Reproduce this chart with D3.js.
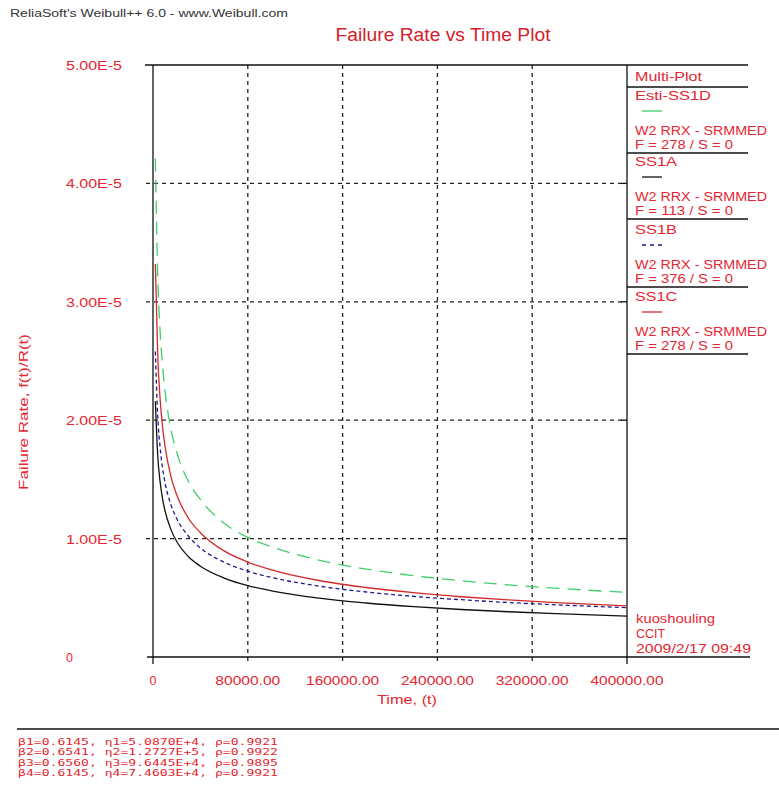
<!DOCTYPE html>
<html>
<head>
<meta charset="utf-8">
<script src="https://cdn.jsdelivr.net/npm/d3@7"></script>
<style>
  body { margin: 0; background: #fff; }
  svg { display: block; font-family: "Liberation Sans", Arial, sans-serif; }
</style>
</head>
<body>
<svg id="chart" width="779" height="809"></svg>
<script>
// values (failure rate per unit time)
const times = [2000, 4000, 6000, 8000, 10000, 15000, 20000, 30000, 40000, 60000, 80000,
  100000, 140000, 180000, 220000, 260000, 300000, 340000, 400000];
const esti = [4.21e-5, 3.22e-5, 2.75e-5, 2.47e-5, 2.26e-5, 1.93e-5, 1.73e-5, 1.48e-5, 1.33e-5, 1.13e-5, 1.01e-5,
  9.31e-6, 8.18e-6, 7.42e-6, 6.87e-6, 6.44e-6, 6.09e-6, 5.81e-6, 5.45e-6];
const ss1a = [2.16e-5, 1.70e-5, 1.48e-5, 1.34e-5, 1.24e-5, 1.08e-5, 9.75e-6, 8.47e-6, 7.67e-6, 6.67e-6, 6.03e-6,
  5.59e-6, 4.97e-6, 4.56e-6, 4.25e-6, 4.01e-6, 3.82e-6, 3.66e-6, 3.46e-6];
const ss1b = [2.58e-5, 2.03e-5, 1.77e-5, 1.60e-5, 1.48e-5, 1.29e-5, 1.17e-5, 1.02e-5, 9.21e-6, 8.01e-6, 7.25e-6,
  6.72e-6, 5.99e-6, 5.49e-6, 5.12e-6, 4.84e-6, 4.60e-6, 4.41e-6, 4.17e-6];
const ss1c = [3.32e-5, 2.55e-5, 2.18e-5, 1.95e-5, 1.79e-5, 1.53e-5, 1.37e-5, 1.17e-5, 1.05e-5, 8.96e-6, 8.02e-6,
  7.36e-6, 6.46e-6, 5.87e-6, 5.43e-6, 5.09e-6, 4.82e-6, 4.59e-6, 4.31e-6];

const xTicks = [0, 80000, 160000, 240000, 320000, 400000];
const yTicks = [0, 1e-5, 2e-5, 3e-5, 4e-5, 5e-5];
const yTickLabels = ["0", "1.00E-5", "2.00E-5", "3.00E-5", "4.00E-5", "5.00E-5"];

const legendNames = ["Esti-SS1D", "SS1A", "SS1B", "SS1C"];
const legendCounts = ["F = 278 / S = 0", "F = 113 / S = 0", "F = 376 / S = 0", "F = 278 / S = 0"];
const paramLines = [
  "\u03b21=0.6145, \u03b71=5.0870E+4, \u03c1=0.9921",
  "\u03b22=0.6541, \u03b72=1.2727E+5, \u03c1=0.9922",
  "\u03b23=0.6560, \u03b73=9.6445E+4, \u03c1=0.9895",
  "\u03b24=0.6145, \u03b74=7.4603E+4, \u03c1=0.9921"
];
const stamp = ["kuoshouling", "CCIT", "2009/2/17 09:49"];

const RED = "#e52530";
const series = [
  { values: esti, color: "#3fcf6a", dash: "13,8", width: 1.3 },
  { values: ss1a, color: "#111", dash: null, width: 1.3 },
  { values: ss1b, color: "#1c1c90", dash: "4,3", width: 1.3 },
  { values: ss1c, color: "#d22a2a", dash: null, width: 1.3 }
];

const svg = d3.select("#chart");
const x = d3.scaleLinear().domain([0, 400000]).range([153, 627]);
const y = d3.scaleLinear().domain([0, 5e-5]).range([657, 65]);

// header + title
svg.append("text").attr("x", 10).attr("y", 17).attr("font-size", 10).attr("fill", "#333")
  .attr("textLength", 278).attr("lengthAdjust", "spacingAndGlyphs")
  .text("ReliaSoft's Weibull++ 6.0 - www.Weibull.com");
svg.append("text").attr("x", 443).attr("y", 41).attr("text-anchor", "middle")
  .attr("font-size", 18).attr("fill", "#d4202c")
  .attr("textLength", 215).attr("lengthAdjust", "spacingAndGlyphs")
  .text("Failure Rate vs Time Plot");

// grid
const grid = svg.append("g").attr("stroke", "#222").attr("stroke-width", 1.3).attr("stroke-dasharray", "4,4");
grid.selectAll("line.h").data(yTicks.slice(1, 5)).join("line")
  .attr("x1", 146).attr("x2", x(400000)).attr("y1", d => y(d)).attr("y2", d => y(d));
grid.selectAll("line.v").data(xTicks.slice(1, 5)).join("line")
  .attr("y1", y(5e-5)).attr("y2", 664).attr("x1", d => x(d)).attr("x2", d => x(d));

// frame lines
const frame = svg.append("g").attr("stroke", "#111").attr("stroke-width", 1.3);
frame.append("line").attr("x1", 145).attr("x2", 748).attr("y1", y(5e-5)).attr("y2", y(5e-5));
frame.append("line").attr("x1", x(0)).attr("x2", x(0)).attr("y1", y(5e-5)).attr("y2", 664);
frame.append("line").attr("x1", 147).attr("x2", x(400000)).attr("y1", y(0)).attr("y2", y(0));
frame.append("line").attr("x1", x(400000)).attr("x2", x(400000)).attr("y1", y(5e-5)).attr("y2", 664);
frame.selectAll("line.rt").data(yTicks.slice(1, 5)).join("line")
  .attr("x1", 621).attr("x2", x(400000)).attr("y1", d => y(d)).attr("y2", d => y(d));

// y tick labels
svg.append("g").selectAll("text").data(yTicks).join("text")
  .attr("x", 66).attr("y", d => y(d) + 5).attr("font-size", 12.5).attr("fill", RED)
  .attr("textLength", (d, i) => i === 0 ? null : 56).attr("lengthAdjust", "spacingAndGlyphs")
  .text((d, i) => yTickLabels[i]);

// x tick labels
svg.append("g").selectAll("text").data(xTicks).join("text")
  .attr("x", d => x(d)).attr("y", 685).attr("text-anchor", "middle")
  .attr("font-size", 12.5).attr("fill", RED)
  .attr("textLength", d => d === 0 ? null : (d >= 100000 ? 73 : 65)).attr("lengthAdjust", "spacingAndGlyphs")
  .text(d => d === 0 ? "0" : d.toFixed(2));

// axis titles
svg.append("text").attr("x", 407).attr("y", 704).attr("text-anchor", "middle")
  .attr("font-size", 12.5).attr("fill", RED).attr("textLength", 60).attr("lengthAdjust", "spacingAndGlyphs")
  .text("Time, (t)");
svg.append("text").attr("transform", "translate(28,412) rotate(-90)").attr("text-anchor", "middle")
  .attr("font-size", 12.5).attr("fill", RED).attr("textLength", 156).attr("lengthAdjust", "spacingAndGlyphs")
  .text("Failure Rate, f(t)/R(t)");

// curves
const line = d3.line().x((d, i) => x(times[i])).y(d => y(d)).curve(d3.curveMonotoneX);
svg.append("g").selectAll("path").data(series).join("path")
  .attr("fill", "none").attr("stroke", d => d.color).attr("stroke-width", d => d.width)
  .attr("stroke-dasharray", d => d.dash).attr("d", d => line(d.values));

// legend panel
const lg = svg.append("g");
const lgX = 635;
lg.append("text").attr("x", lgX).attr("y", 81).attr("font-size", 12.5).attr("fill", RED)
  .attr("textLength", 67).attr("lengthAdjust", "spacingAndGlyphs").text("Multi-Plot");
lg.append("line").attr("x1", 627).attr("x2", 748).attr("y1", 87).attr("y2", 87).attr("stroke", "#111").attr("stroke-width", 1.3);
const blockTop = [87, 153, 221, 288];
legendNames.forEach((name, i) => {
  const t = blockTop[i];
  const s = series[i];
  lg.append("text").attr("x", lgX).attr("y", t + 13).attr("font-size", 12.5).attr("fill", RED)
    .attr("textLength", name.length > 4 ? 76 : 42).attr("lengthAdjust", "spacingAndGlyphs").text(name);
  lg.append("line").attr("x1", 642).attr("x2", 662).attr("y1", t + 24).attr("y2", t + 24)
    .attr("stroke", s.color).attr("stroke-width", 1.3).attr("stroke-dasharray", s.dash ? (i === 2 ? "4,4" : "20,0") : null);
  lg.append("text").attr("x", lgX).attr("y", t + 48).attr("font-size", 12.5).attr("fill", RED)
    .attr("textLength", 132).attr("lengthAdjust", "spacingAndGlyphs").text("W2 RRX - SRMMED");
  lg.append("text").attr("x", lgX).attr("y", t + 62).attr("font-size", 12.5).attr("fill", RED)
    .attr("textLength", 98).attr("lengthAdjust", "spacingAndGlyphs").text(legendCounts[i]);
  lg.append("line").attr("x1", 627).attr("x2", 748).attr("y1", t + 66).attr("y2", t + 66)
    .attr("stroke", "#111").attr("stroke-width", 1.3);
});

// stamp at lower right
const stampWidths = [79, 29, 115];
svg.append("g").selectAll("text").data(stamp).join("text")
  .attr("x", 636).attr("y", (d, i) => 623 + i * 15).attr("font-size", 12.5).attr("fill", RED)
  .attr("textLength", (d, i) => stampWidths[i]).attr("lengthAdjust", "spacingAndGlyphs")
  .text(d => d);
svg.append("line").attr("x1", 627).attr("x2", 750).attr("y1", 657).attr("y2", 657)
  .attr("stroke", "#111").attr("stroke-width", 1.3);

// parameter block
svg.append("line").attr("x1", 17).attr("x2", 779).attr("y1", 729).attr("y2", 729)
  .attr("stroke", "#111").attr("stroke-width", 1.3);
svg.append("g").selectAll("text").data(paramLines).join("text")
  .attr("x", 18).attr("y", (d, i) => 745 + i * 10.3).attr("font-size", 9)
  .attr("font-family", "'DejaVu Sans Mono', monospace").attr("fill", RED)
  .attr("textLength", 260).attr("lengthAdjust", "spacingAndGlyphs")
  .text(d => d);
</script>
</body>
</html>
